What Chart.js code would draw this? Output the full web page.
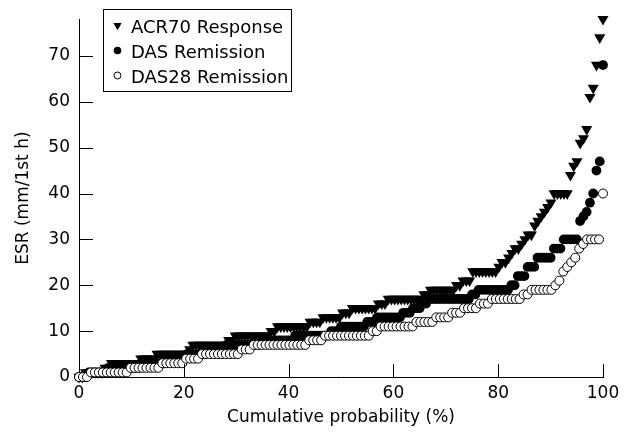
<!DOCTYPE html>
<html>
<head>
<meta charset="utf-8">
<script src="https://cdn.jsdelivr.net/npm/chart.js@4.4.0/dist/chart.umd.min.js"></script>
<style>
html,body{margin:0;padding:0;background:#fff;}
#wrap{width:629px;height:436px;position:relative;}
</style>
</head>
<body>
<div id="wrap"><canvas id="c" width="629" height="436"></canvas></div>
<script>
// ---- data (sorted ESR values per group, mm/1st h) ----
const SERIES_NAMES = ['ACR70 Response', 'DAS Remission', 'DAS28 Remission'];

const ESR_ACR70 = [
  0,0,
  1,1,1,1,1,1,
  2,2,
  3,3,3,3,3,3,3,3,3,
  4,4,4,4,4,
  5,5,5,5,5,5,5,5,5,5,
  6,
  7,7,7,7,7,7,7,7,7,7,7,
  8,8,
  9,9,9,9,9,9,9,9,9,9,9,
  10,10,
  11,11,11,11,11,11,11,11,11,11,
  12,12,12,12,
  13,13,13,13,13,13,
  14,14,14,
  15,15,15,15,15,15,15,15,
  16,16,16,
  17,17,17,17,17,17,17,17,17,17,17,
  18,18,
  19,19,19,19,19,19,19,19,
  20,20,
  21,21,21,
  23,23,23,23,23,23,23,23,
  24,25,25,26,27,28,28,29,30,31,31,33,34,35,36,37,38,
  40,40,40,40,40,
  44,46,47,51,52,54,61,63,68,74,78
];

const ESR_DAS = [
  0,0,0,
  1,1,1,1,1,1,
  2,2,2,2,2,2,2,2,2,2,
  3,3,3,3,3,3,3,3,
  4,4,4,4,4,4,
  5,5,5,5,5,5,
  6,6,6,6,6,6,
  7,7,7,7,7,7,7,7,7,7,7,
  8,8,8,8,8,8,8,8,8,8,
  9,9,9,9,9,9,9,9,9,9,9,
  10,10,10,
  11,11,11,11,11,11,11,11,
  12,12,12,
  13,13,13,13,13,13,13,13,
  14,14,14,
  15,15,15,
  16,16,
  17,17,17,17,17,17,17,17,17,17,17,17,17,
  18,18,
  19,19,19,19,19,19,19,19,19,19,
  20,20,
  22,22,22,
  24,24,24,
  26,26,26,26,26,
  28,28,28,
  30,30,30,30,30,
  34,35,36,38,40,45,47,68
];

const ESR_DAS28 = [
  0,0,0,
  1,1,1,1,1,1,1,1,1,1,
  2,2,2,2,2,2,2,2,
  3,3,3,3,3,3,
  4,4,4,4,
  5,5,5,5,5,5,5,5,5,5,
  6,6,6,
  7,7,7,7,7,7,7,7,7,7,7,7,7,7,
  8,8,8,8,
  9,9,9,9,9,9,9,9,9,9,9,9,
  10,10,
  11,11,11,11,11,11,11,11,11,
  12,12,12,12,12,
  13,13,13,13,
  14,14,14,
  15,15,15,15,
  16,16,16,
  17,17,17,17,17,17,17,17,
  18,18,
  19,19,19,19,19,19,
  20,
  21,
  23,24,25,26,28,29,
  30,30,30,30,
  40
];

const X_TICKS = [0, 20, 40, 60, 80, 100];
const Y_TICKS = [0, 10, 20, 30, 40, 50, 60, 70];
const X_MAX = 100;
const Y_MAX = 78;

// cumulative probability (%) of each sorted observation
function toCumulative(values) {
  const n = values.length;
  return values.map((v, i) => ({ x: i / (n - 1) * 100, y: v }));
}

Chart.defaults.font.family = '"DejaVu Sans", sans-serif';
Chart.defaults.font.size = 17;
Chart.defaults.color = '#000';

const innerTicks = {
  id: 'innerTicks',
  afterDraw(chart) {
    const { ctx, scales: { x, y }, chartArea: a } = chart;
    ctx.save();
    ctx.strokeStyle = '#000';
    ctx.lineWidth = 1;
    ctx.beginPath();
    X_TICKS.forEach(v => {
      if (v === 0) return;
      const px = Math.round(x.getPixelForValue(v)) + 0.5;
      ctx.moveTo(px, a.bottom);
      ctx.lineTo(px, a.bottom - 13);
    });
    Y_TICKS.forEach(v => {
      if (v === 0) return;
      const py = Math.round(y.getPixelForValue(v)) + 0.5;
      ctx.moveTo(a.left, py);
      ctx.lineTo(a.left + 14, py);
    });
    ctx.stroke();
    ctx.restore();
  }
};

const boxLegend = {
  id: 'boxLegend',
  afterDraw(chart) {
    const { ctx } = chart;
    ctx.save();
    ctx.fillStyle = '#fff';
    ctx.fillRect(103.5, 9.5, 188, 82);
    ctx.strokeStyle = '#000';
    ctx.lineWidth = 1;
    ctx.strokeRect(103.5, 9.5, 188, 82);
    const rows = [
      { style: 'triangle', rot: 180, r: 4.8, fill: '#000', bw: 0, my: 25.5, base: 33.3 },
      { style: 'circle', rot: 0, r: 3.8, fill: '#000', bw: 0, my: 50.5, base: 58.3 },
      { style: 'circle', rot: 0, r: 3.5, fill: '#fff', bw: 1, my: 75.5, base: 83.3 }
    ];
    rows.forEach((r, i) => {
      ctx.fillStyle = r.fill;
      ctx.strokeStyle = '#000';
      ctx.lineWidth = r.bw;
      Chart.helpers.drawPoint(ctx, { pointStyle: r.style, rotation: r.rot, radius: r.r, borderWidth: r.bw }, 117.5, r.my);
      ctx.fillStyle = '#000';
      ctx.font = '18px "DejaVu Sans", sans-serif';
      ctx.textBaseline = 'alphabetic';
      ctx.textAlign = 'left';
      ctx.fillText(SERIES_NAMES[i], 131, r.base);
    });
    ctx.restore();
  }
};

new Chart(document.getElementById('c'), {
  type: 'scatter',
  data: {
    datasets: [
      { label: SERIES_NAMES[0], data: toCumulative(ESR_ACR70), pointStyle: 'triangle', pointRotation: 180,
        pointRadius: 6.4, pointBackgroundColor: '#000', pointBorderColor: '#000', pointBorderWidth: 0, order: 3, clip: false },
      { label: SERIES_NAMES[1], data: toCumulative(ESR_DAS), pointStyle: 'circle',
        pointRadius: 4.9, pointBackgroundColor: '#000', pointBorderColor: '#000', pointBorderWidth: 0, order: 2, clip: false },
      { label: SERIES_NAMES[2], data: toCumulative(ESR_DAS28), pointStyle: 'circle',
        pointRadius: 4.5, pointBackgroundColor: '#fff', pointBorderColor: '#000', pointBorderWidth: 1, order: 1, clip: false }
    ]
  },
  options: {
    responsive: false,
    animation: false,
    devicePixelRatio: 1,
    events: [],
    layout: { padding: { left: 0, right: 26, top: 10, bottom: 0 } },
    plugins: { legend: { display: false }, tooltip: { enabled: false } },
    scales: {
      x: {
        type: 'linear', min: 0, max: X_MAX,
        afterFit(s) { s.height = 59; },
        afterBuildTicks(s) { s.ticks = X_TICKS.map(v => ({ value: v })); },
        grid: { display: true, drawOnChartArea: false, drawTicks: false },
        border: { display: true, color: '#000', width: 1 },
        ticks: { padding: 6, maxRotation: 0, autoSkip: false, color: '#000' },
        title: { display: true, text: 'Cumulative probability (%)', padding: { top: 0, bottom: 8 }, color: '#000' }
      },
      y: {
        type: 'linear', min: 0, max: Y_MAX,
        afterFit(s) { s.width = 79; },
        afterBuildTicks(s) { s.ticks = Y_TICKS.map(v => ({ value: v })); },
        grid: { display: true, drawOnChartArea: false, drawTicks: false },
        border: { display: true, color: '#000', width: 1 },
        ticks: { padding: 9, autoSkip: false, color: '#000' },
        title: { display: true, text: 'ESR (mm/1st h)', padding: { top: 13, bottom: 0 }, color: '#000' }
      }
    }
  },
  plugins: [innerTicks, boxLegend]
});
</script>
</body>
</html>
